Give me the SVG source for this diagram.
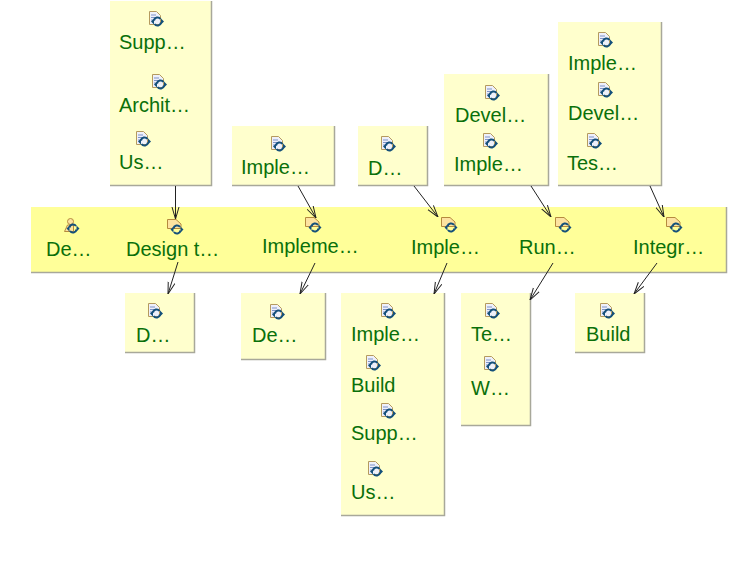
<svg xmlns="http://www.w3.org/2000/svg" width="748" height="574" viewBox="0 0 748 574">
<style>
text{font-family:"Liberation Sans",Arial,sans-serif;font-size:20px;fill:#0a700a}
.box{fill:#ffffcd;stroke:none}
.band{fill:#ffff99}
.edge{fill:none;stroke:#a8a89a;stroke-width:1.5}
.c{fill:none;stroke:#222;stroke-width:1;marker-end:url(#a)}
</style>
<defs>
<marker id="a" viewBox="0 0 12 10" refX="12" refY="5" markerWidth="12" markerHeight="10" markerUnits="userSpaceOnUse" orient="auto"><path d="M0 1.500L12 5L0 8.500" fill="none" stroke="#222" stroke-width="1"/></marker>
<g id="sync"><path d="M-3.500 -1A3.600 3.600 0 0 1 3 -2.500M3.500 1A3.600 3.600 0 0 1 -3 2.500" fill="none" stroke="#14507a" stroke-width="2"/><path d="M-6.500 0L-3.500 -3V3ZM6.500 0L3.500 -3V3Z" fill="#14507a"/></g>
<g id="doc"><path d="M0.500 0.500H7.500L11.500 4.500V13.500H0.500Z" fill="#eef0fa" stroke="#b59a5e"/><path d="M2 4H7M2 6.500H9M2 9H6" stroke="#7f93c8"/><use href="#sync" x="8.500" y="10.500"/></g>
<g id="task"><path d="M0.500 0.500H9L14 5V9.500H0.500Z" fill="#fde3a0" stroke="#b58a3e"/><use href="#sync" x="10" y="10.500"/></g>
<g id="role"><circle cx="6.500" cy="3.500" r="3" fill="#fde3a0" stroke="#b58a3e"/><path d="M0.500 13.500L3.500 7H9.500V13.500Z" fill="#fde3a0" stroke="#b58a3e"/><use href="#sync" x="9" y="10.500"/></g>
</defs>
<rect width="748" height="574" fill="#fff"/>
<g id="band"><rect class="band" x="31" y="207" width="695" height="65"/><path class="edge" d="M31 272.500H726.500V207"/></g>
<g id="role-de"><use href="#role" x="64" y="218"/><text x="46" y="256">De…</text></g>
<g id="task-design"><use href="#task" x="167" y="219"/><text x="126" y="256">Design t…</text></g>
<g id="task-implement-1"><use href="#task" x="305" y="217"/><text x="262" y="253">Impleme…</text></g>
<g id="task-implement-2"><use href="#task" x="441" y="217"/><text x="411" y="254">Imple…</text></g>
<g id="task-run"><use href="#task" x="555" y="217"/><text x="519" y="254">Run…</text></g>
<g id="task-integrate"><use href="#task" x="666" y="217"/><text x="633" y="254">Integr…</text></g>
<g id="in-1"><rect class="box" x="110" y="1" width="101" height="184"/><path class="edge" d="M110 185.500H211.500V1"/><use href="#doc" x="149" y="11"/><text x="119" y="49">Supp…</text><use href="#doc" x="152" y="74"/><text x="119" y="112">Archit…</text><use href="#doc" x="136" y="131"/><text x="119" y="169">Us…</text></g>
<g id="in-2"><rect class="box" x="232" y="126" width="102" height="59"/><path class="edge" d="M232 185.500H334.500V126"/><use href="#doc" x="271" y="136"/><text x="241" y="174">Imple…</text></g>
<g id="in-3"><rect class="box" x="358" y="126" width="69" height="59"/><path class="edge" d="M358 185.500H427.500V126"/><use href="#doc" x="381" y="136"/><text x="368" y="175">D…</text></g>
<g id="in-4"><rect class="box" x="444" y="74" width="104" height="111"/><path class="edge" d="M444 185.500H548.500V74"/><use href="#doc" x="485" y="85"/><text x="455" y="122">Devel…</text><use href="#doc" x="483" y="133"/><text x="454" y="171">Imple…</text></g>
<g id="in-5"><rect class="box" x="558" y="22" width="103" height="163"/><path class="edge" d="M558 185.500H661.500V22"/><use href="#doc" x="598" y="32"/><text x="568" y="70">Imple…</text><use href="#doc" x="598" y="82"/><text x="568" y="120">Devel…</text><use href="#doc" x="587" y="133"/><text x="567" y="170">Tes…</text></g>
<g id="out-1"><rect class="box" x="125" y="293" width="69" height="59"/><path class="edge" d="M125 352.500H194.500V293"/><use href="#doc" x="148" y="303"/><text x="136" y="342">D…</text></g>
<g id="out-2"><rect class="box" x="241" y="293" width="84" height="66"/><path class="edge" d="M241 359.500H325.500V293"/><use href="#doc" x="270" y="304"/><text x="252" y="342">De…</text></g>
<g id="out-3"><rect class="box" x="341" y="293" width="103" height="222"/><path class="edge" d="M341 515.500H444.500V293"/><use href="#doc" x="381" y="303"/><text x="351" y="341">Imple…</text><use href="#doc" x="366" y="355"/><text x="351" y="392">Build</text><use href="#doc" x="381" y="403"/><text x="351" y="440">Supp…</text><use href="#doc" x="368" y="461"/><text x="351" y="499">Us…</text></g>
<g id="out-4"><rect class="box" x="461" y="293" width="69" height="132"/><path class="edge" d="M461 425.500H530.500V293"/><use href="#doc" x="485" y="303"/><text x="471" y="341">Te…</text><use href="#doc" x="484" y="356"/><text x="471" y="395">W…</text></g>
<g id="out-5"><rect class="box" x="575" y="293" width="69" height="59"/><path class="edge" d="M575 352.500H644.500V293"/><use href="#doc" x="600" y="303"/><text x="586" y="341">Build</text></g>
<g id="connectors">
<path class="c" d="M175.500 186V219"/>
<path class="c" d="M298 186L316 218"/>
<path class="c" d="M414 186L438 217"/>
<path class="c" d="M531 186L551 217"/>
<path class="c" d="M650 186L664 217"/>
<path class="c" d="M178 262L168 294"/>
<path class="c" d="M315 263L300 294"/>
<path class="c" d="M447 263L434 294"/>
<path class="c" d="M553 263L530 300"/>
<path class="c" d="M657 263L634 294"/>
</g>
</svg>
